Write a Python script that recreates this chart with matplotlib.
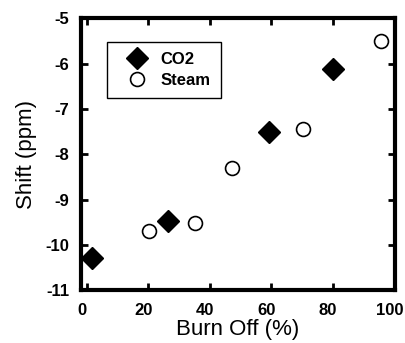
import matplotlib
matplotlib.use("Agg")
import matplotlib.pyplot as plt
from matplotlib.ticker import MultipleLocator
from matplotlib.transforms import ScaledTranslation

co2_x = [1.6, 26.5, 59.3, 80.1]
co2_y = [-10.29, -9.46, -7.51, -6.12]
steam_x = [20.3, 35.2, 47.3, 70.1, 95.4]
steam_y = [-9.68, -9.52, -8.31, -7.44, -5.49]

plt.rcParams['font.family'] = ['Liberation Sans', 'DejaVu Sans']
plt.rcParams['axes.unicode_minus'] = False

fig = plt.figure(figsize=(4.06, 3.43), dpi=100)
ax = fig.add_axes([0.1983, 0.1531, 0.7739, 0.7936])

ax.plot(co2_x, co2_y, linestyle='none', marker='D', markersize=11,
        color='black', label='CO2')
ax.plot(steam_x, steam_y, linestyle='none', marker='o', markersize=10,
        markerfacecolor='white', markeredgecolor='black', markeredgewidth=1.2,
        label='Steam')

ax.set_xlim(-2.0, 100)
ax.set_ylim(-11, -5)
ax.xaxis.set_major_locator(MultipleLocator(20))
ax.yaxis.set_major_locator(MultipleLocator(1))

for s in ax.spines.values():
    s.set_linewidth(3.0)
ax.tick_params(direction='in', length=5, width=2, top=True, right=True,
               labelsize=12)
ax.tick_params(axis='x', pad=9)
ax.tick_params(axis='y', pad=8)
shift = ScaledTranslation(-5 / 100, 0, fig.dpi_scale_trans)
for lab in ax.get_xticklabels():
    lab.set_fontweight('bold')
    lab.set_transform(lab.get_transform() + shift)
for lab in ax.get_yticklabels():
    lab.set_fontweight('bold')

ax.set_xlabel('Burn Off (%)', fontsize=16, labelpad=1)
ax.set_ylabel('Shift (ppm)', fontsize=16, labelpad=6)

leg = ax.legend(loc='upper left', bbox_to_anchor=(0.083, 0.914),
                borderaxespad=0, frameon=True, fancybox=False,
                edgecolor='black', framealpha=1,
                prop={'weight': 'bold', 'size': 12}, handletextpad=0.25,
                borderpad=0.6, labelspacing=0.35, handlelength=2.4)
leg.get_frame().set_linewidth(1.0)

fig.savefig('out.png', dpi=100)
